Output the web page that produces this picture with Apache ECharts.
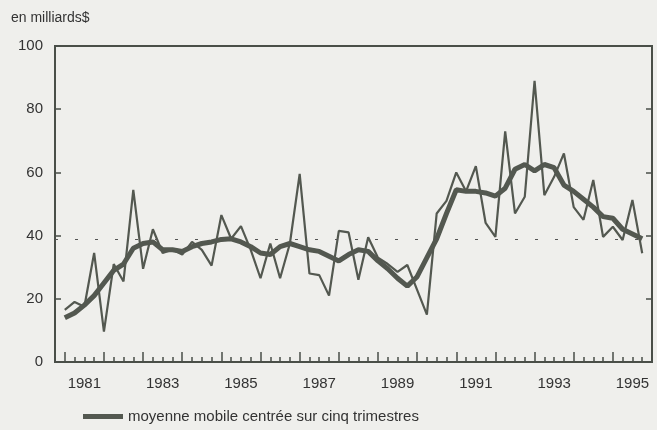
<!DOCTYPE html>
<html>
<head>
<meta charset="utf-8">
<script src="https://cdn.jsdelivr.net/npm/echarts@6/dist/echarts.min.js"></script>
<style>
  html, body { margin: 0; padding: 0; background: #efefec; }
  #chart { width: 657px; height: 430px; }
</style>
</head>
<body>
<div id="chart"></div>
<script>
// Quarterly categories: 1980Q4 .. 1996Q1 (axis frame); data covers 1981Q1 .. 1995Q4
const firstYear = 1980, firstQuarter = 4, lastYear = 1996, lastQuarter = 1;
const dataStart = '1981Q1';

// Quarterly values (thin line), 1981Q1 .. 1995Q4, billions $
const quarterly = [
  16.5, 19, 17.5, 34.5, 9.6, 31, 25.5, 54.5,
  29.5, 42, 34.5, 35.5, 34, 38, 35.5, 30.5,
  46.5, 39, 43, 35.5, 26.5, 37.5, 26.5, 37.5,
  59.5, 28, 27.5, 21, 41.5, 41, 26, 39.5,
  33, 31, 28.5, 30.7, 22.8, 15, 47, 51,
  60, 54, 62, 44, 39.6, 73, 47, 52.3,
  89, 52.8, 58.6, 66, 49, 45, 57.6, 39.6,
  42.8, 38.6, 51.3, 34.4
];

// Five-quarter centred moving average (thick line), 1981Q1 .. 1995Q4
const movingAvg = [
  14, 15.5, 18, 21, 25, 29, 31, 36,
  37.5, 38, 35.5, 35.5, 35, 36.5, 37.5, 38,
  38.8, 39, 38, 36.5, 34.5, 34, 36.5, 37.5,
  36.5, 35.5, 35, 33.5, 32, 34, 35.5, 35,
  32, 29.5, 26.5, 24, 27, 33, 39, 47,
  54.5, 54, 54, 53.5, 52.5, 55, 61, 62.5,
  60.5, 62.5, 61.5, 56, 54, 51.5, 49, 46,
  45.5, 42, 40.5, 39
];

// Dotted reference level
const referenceLevel = [38.8];

const yTicks = [0, 20, 40, 60, 80, 100];
const legendLabel = 'moyenne mobile centrée sur cinq trimestres';
const unitLabel = 'en milliards$';

// Build category list
const categories = [];
{
  let y = firstYear, q = firstQuarter;
  while (y < lastYear || (y === lastYear && q <= lastQuarter)) {
    categories.push(y + 'Q' + q);
    q++; if (q > 4) { q = 1; y++; }
  }
}
const startIdx = categories.indexOf(dataStart);
function pad(arr) {
  const out = categories.map(() => null);
  arr.forEach((v, i) => { out[startIdx + i] = v; });
  return out;
}

const FONT = 'Liberation Sans, Arial, Helvetica, sans-serif';
const ink = '#535850';
const frame = '#4a4f48';

const chart = echarts.init(document.getElementById('chart'));
chart.setOption({
  animation: false,
  backgroundColor: '#efefec',
  textStyle: { fontFamily: FONT },
  title: {
    text: unitLabel, left: 6, top: 6,
    textStyle: { fontSize: 14, fontWeight: 'normal', color: '#333', fontFamily: FONT }
  },
  legend: {
    data: [legendLabel], left: 78, top: 404,
    icon: 'rect', itemWidth: 40, itemHeight: 5,
    textStyle: { fontSize: 15, color: '#333', fontFamily: FONT }
  },
  grid: {
    left: 55, right: 5, top: 46, bottom: 68,
    show: true, borderColor: frame, borderWidth: 2, backgroundColor: 'transparent'
  },
  xAxis: [
    {
      type: 'category', data: categories, boundaryGap: false, position: 'bottom',
      axisLine: { show: true, lineStyle: { color: frame, width: 2 } },
      axisTick: { show: true, inside: true, length: 5, interval: 0, lineStyle: { color: frame, width: 1.5 } },
      axisLabel: {
        show: true, margin: 14, fontSize: 15, color: '#333', fontFamily: FONT,
        interval: (i, v) => v.endsWith('Q3') && (parseInt(v.slice(0, 4)) % 2 === 1),
        formatter: v => v.slice(0, 4)
      },
      splitLine: { show: false }
    },
    {
      type: 'category', data: categories, boundaryGap: false, position: 'bottom',
      axisLine: { show: false },
      axisTick: { show: true, inside: true, length: 10, interval: (i, v) => v.endsWith('Q1'), lineStyle: { color: frame, width: 1.5 } },
      axisLabel: { show: false },
      splitLine: { show: false }
    }
  ],
  yAxis: [
    {
      type: 'value', min: yTicks[0], max: yTicks[yTicks.length - 1], interval: yTicks[1] - yTicks[0],
      position: 'left',
      axisLine: { show: true, lineStyle: { color: frame, width: 2 } },
      axisTick: { show: true, inside: true, length: 6, lineStyle: { color: frame, width: 1.5 } },
      axisLabel: { fontSize: 15, color: '#333', margin: 12, fontFamily: FONT },
      splitLine: { show: false }
    },
    {
      type: 'value', min: yTicks[0], max: yTicks[yTicks.length - 1], interval: yTicks[1] - yTicks[0],
      position: 'right',
      axisLine: { show: true, lineStyle: { color: frame, width: 2 } },
      axisTick: { show: true, inside: true, length: 6, lineStyle: { color: frame, width: 1.5 } },
      axisLabel: { show: false },
      splitLine: { show: false }
    }
  ],
  series: [
    {
      name: 'trimestriel', type: 'line', data: pad(quarterly),
      showSymbol: false, symbol: 'none', connectNulls: false,
      lineStyle: { color: ink, width: 2.2 }, itemStyle: { color: ink },
      markLine: {
        silent: true, symbol: 'none', label: { show: false },
        lineStyle: { color: '#555', width: 1, type: [3, 17] },
        data: referenceLevel.map(v => ({ yAxis: v }))
      },
      z: 2
    },
    {
      name: legendLabel, type: 'line', data: pad(movingAvg),
      showSymbol: false, symbol: 'none',
      lineStyle: { color: ink, width: 5 }, itemStyle: { color: ink },
      z: 3
    }
  ]
});
</script>
</body>
</html>
